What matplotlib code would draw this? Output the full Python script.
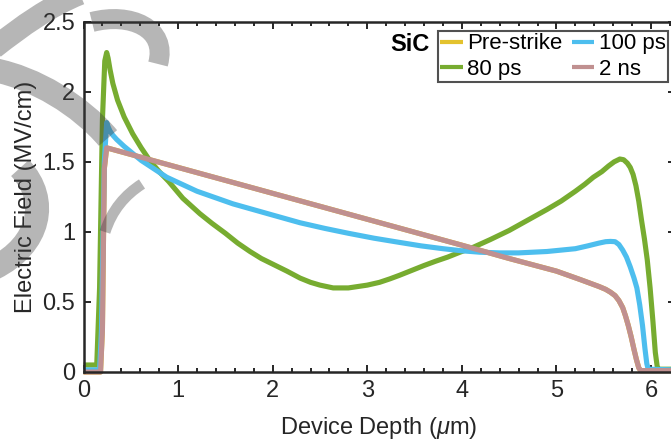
import numpy as np
import matplotlib
matplotlib.use("Agg")
import matplotlib.pyplot as plt
from matplotlib.ticker import MultipleLocator
from matplotlib.transforms import Affine2D
from matplotlib.path import Path
from matplotlib.patches import PathPatch

plt.rcParams['font.family'] = ['Liberation Sans', 'DejaVu Sans']
plt.rcParams['mathtext.fontset'] = 'custom'
plt.rcParams['mathtext.it'] = 'Liberation Sans:italic'
plt.rcParams['mathtext.rm'] = 'Liberation Sans'

# field profiles across the SiC device (depth in um, field in MV/cm)
depth_80ps = [0, 0.14, 0.17, 0.20, 0.225, 0.245, 0.26, 0.28, 0.31, 0.36, 0.43, 0.52,
              0.61, 0.70, 0.80, 0.90, 1.05, 1.23, 1.36, 1.50, 1.63, 1.76, 1.88, 2.00,
              2.15, 2.29, 2.40, 2.50, 2.64, 2.80, 2.90, 3.00, 3.13, 3.24, 3.34, 3.47,
              3.60, 3.72, 3.85, 3.98, 4.12, 4.30, 4.50, 4.70, 4.90, 5.05, 5.20, 5.30,
              5.39, 5.48, 5.55, 5.61, 5.67, 5.71, 5.75, 5.78, 5.81, 5.84, 5.87, 5.90,
              5.93, 5.96, 5.99, 6.02, 6.045, 6.065, 6.08, 6.25]
field_80ps = [0.05, 0.05, 0.60, 1.80, 2.22, 2.28, 2.24, 2.16, 2.06, 1.94, 1.82, 1.70,
              1.60, 1.51, 1.43, 1.36, 1.24, 1.13, 1.06, 0.99, 0.92, 0.86, 0.81, 0.77,
              0.72, 0.67, 0.64, 0.62, 0.60, 0.60, 0.61, 0.62, 0.64, 0.665, 0.69, 0.725,
              0.76, 0.79, 0.82, 0.855, 0.89, 0.945, 1.01, 1.085, 1.16, 1.22, 1.29, 1.34,
              1.39, 1.43, 1.47, 1.50, 1.52, 1.515, 1.49, 1.46, 1.41, 1.33, 1.22, 1.08,
              0.95, 0.80, 0.60, 0.36, 0.14, 0.04, 0.02, 0.02]

depth_100ps = [0, 0.17, 0.19, 0.22, 0.245, 0.26, 0.28, 0.31, 0.35, 0.43, 0.52, 0.61,
               0.70, 0.79, 0.88, 1.04, 1.20, 1.39, 1.58, 1.79, 2.00, 2.29, 2.55, 2.80,
               3.07, 3.34, 3.57, 3.80, 4.00, 4.19, 4.40, 4.60, 4.90, 5.05, 5.20, 5.33,
               5.45, 5.52, 5.57, 5.62, 5.66, 5.70, 5.74, 5.78, 5.82, 5.85, 5.88, 5.91,
               5.935, 5.955, 5.97, 6.25]
field_100ps = [0.015, 0.015, 0.30, 1.50, 1.78, 1.75, 1.72, 1.69, 1.66, 1.61, 1.56, 1.51,
               1.47, 1.43, 1.39, 1.34, 1.29, 1.245, 1.20, 1.16, 1.12, 1.065, 1.025, 0.99,
               0.955, 0.925, 0.90, 0.88, 0.865, 0.855, 0.85, 0.85, 0.86, 0.87, 0.88, 0.90,
               0.92, 0.93, 0.932, 0.93, 0.91, 0.87, 0.82, 0.75, 0.67, 0.60, 0.48, 0.33,
               0.17, 0.06, 0.02, 0.015]

depth_2ns = [0, 0.18, 0.20, 0.22, 0.245, 1.00, 2.00, 3.00, 4.00, 4.50, 5.00, 5.25,
             5.45, 5.52, 5.57, 5.62, 5.66, 5.70, 5.73, 5.76, 5.79, 5.82, 5.845, 5.87,
             5.89, 6.25]
field_2ns = [0.0, 0.0, 0.30, 1.45, 1.60, 1.46, 1.275, 1.09, 0.905, 0.81, 0.72, 0.66,
             0.61, 0.59, 0.57, 0.545, 0.51, 0.46, 0.40, 0.33, 0.25, 0.16, 0.09, 0.03,
             0.01, 0.01]

# steady state before the strike sits under the 2 ns curve
depth_pre = depth_2ns
field_pre = field_2ns

series = [
    ("Pre-strike", depth_pre, field_pre, "#E3C22E"),
    ("80 ps", depth_80ps, field_80ps, "#77AC30"),
    ("100 ps", depth_100ps, field_100ps, "#4DBEEE"),
    ("2 ns", depth_2ns, field_2ns, "#C09090"),
]

W, H = 671, 443
fig = plt.figure(figsize=(W / 100, H / 100), dpi=100)
ax = fig.add_axes([83.5 / W, 71 / H, 591.2 / W, 350.3 / H])

for name, xs, ys, col in series:
    ax.plot(xs, ys, color=col, lw=3.7, label=name, clip_on=False,
            solid_joinstyle='round', solid_capstyle='butt')

ax.set_xlim(0, 6.25)
ax.set_ylim(0, 2.5)
ax.xaxis.set_minor_locator(MultipleLocator(0.2))
ax.set_yticks([0, 0.5, 1, 1.5, 2, 2.5])
ax.set_yticklabels(["0", "0.5", "1", "1.5", "2", "2.5"])
ax.set_xticks([0, 1, 2, 3, 4, 5, 6])
ax.set_xticklabels(["0", "1", "2", "3", "4", "5", "6"])

dark = "#262626"
for sp in ax.spines.values():
    sp.set_linewidth(1.8)
    sp.set_color(dark)
ax.tick_params(which='both', direction='in', top=True, right=True,
               color=dark, labelcolor=dark, labelsize=17, width=1.4)
ax.tick_params(which='major', length=5, pad=6)
ax.tick_params(which='minor', length=3)

ax.set_xlabel(r"Device Depth ($\mu$m)", fontsize=17, color=dark, labelpad=9)
ax.set_ylabel("Electric Field (MV/cm)", fontsize=17, color=dark, labelpad=4)

ax.text(0.552, 0.935, "SiC", transform=ax.transAxes, fontsize=17,
        fontweight='bold', ha='center', va='center', color='black')

leg = ax.legend(ncols=2, loc='upper right', bbox_to_anchor=(0.9887, 0.973),
                fontsize=16, frameon=True, fancybox=False, handlelength=1.0,
                handletextpad=0.2, columnspacing=0.45, labelspacing=0.22,
                borderpad=0.1, borderaxespad=0)
leg.get_frame().set_edgecolor(dark)
leg.get_frame().set_linewidth(1.5)
for ln in leg.get_lines():
    ln.set_linewidth(3.0)

# grey pen strokes over the upper left corner (pixel coords, y down)
px = Affine2D().scale(1, -1).translate(0, H)
C4 = Path.CURVE4
strokes = [
    ([(80, -6), (50, 6), (22, 26), (-6, 48)], 22),
    ([(-6, 70), (35, 78), (80, 105), (108, 138)], 24),
    ([(92, 22), (130, 12), (168, 28), (158, 64)], 20),
    ([(20, 168), (50, 200), (40, 245), (-6, 268)], 24),
    ([(142, 184), (125, 195), (112, 210), (105, 232)], 11),
]
for pts, w in strokes:
    path = Path(pts, [Path.MOVETO, C4, C4, C4])
    fig.add_artist(PathPatch(path, transform=px, facecolor='none',
                             edgecolor="#404040", alpha=0.38, lw=w * 0.72,
                             capstyle='butt', zorder=10))

fig.savefig("out.png", dpi=100)
